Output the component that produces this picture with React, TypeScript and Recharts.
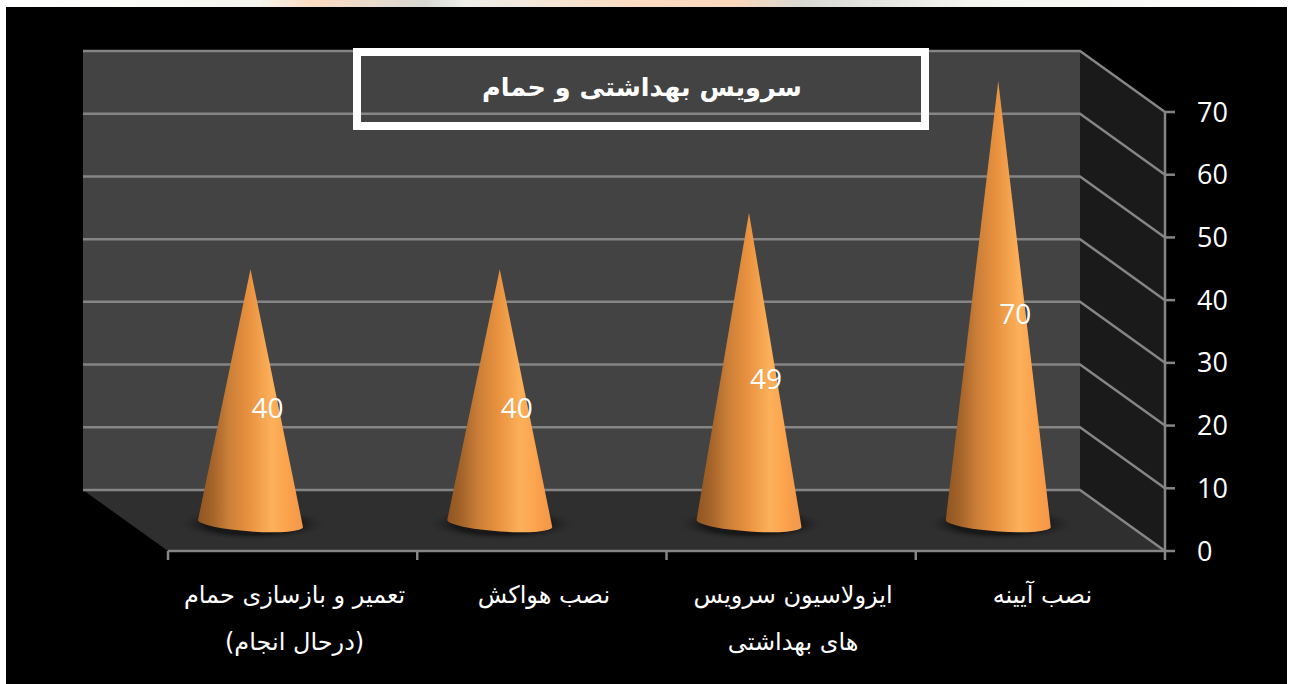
import { Bar, CartesianGrid, ComposedChart, LabelList, XAxis, YAxis } from 'recharts'

const categories = ['تعمیر و بازسازی حمام (درحال انجام)', 'نصب هواکش', 'ایزولاسیون سرویس های بهداشتی', 'نصب آیینه']
const categoryLines = [['تعمیر و بازسازی حمام', '(درحال انجام)'], ['نصب هواکش'], ['ایزولاسیون سرویس', 'های بهداشتی'], ['نصب آیینه']]
const values = [40, 40, 49, 70]
const yTicks = [0, 10, 20, 30, 40, 50, 60, 70]
const chartTitle = 'سرویس بهداشتی و حمام'

const data = categories.map((name, i) => ({ name, value: values[i] }))

const depthX = 85
const depthY = 61
const axisColor = '#858585'
const arabicFont = '"DejaVu Sans", sans-serif'
const numberFont = '"Open Sans", sans-serif'

function Cone(props: any) {
  const { x, y, width, height } = props
  // the cones stand in the middle of the floor, half the depth behind the front edge
  const cx = x + width / 2 - 42
  const top = y - 31
  const base = y + height - 28
  const left = cx - width / 2
  const right = cx + width / 2
  return (
    <g>
      <ellipse cx={cx + 2} cy={base + 1} rx={width / 2 + 24} ry={17} fill="url(#coneShadow)" />
      <path
        d={`M${cx},${top} L${right},${base + 4} A${width / 2},8 4 0 1 ${left},${base - 3} Z`}
        fill="url(#coneFill)"
      />
    </g>
  )
}

function GridLine(props: any) {
  const { x1, x2, y1 } = props
  const backLeft = x1 - depthX
  const backRight = x2 - depthX
  return (
    <path
      d={`M${backLeft},${y1 - depthY} L${backRight},${y1 - depthY} L${x2},${y1}`}
      fill="none"
      stroke={axisColor}
      strokeWidth={2.5}
    />
  )
}

function CategoryTick(props: any) {
  const { x, y, index, payload } = props
  const lines = categoryLines[index] ?? [payload.value]
  const half = 124.6
  return (
    <g>
      <line x1={x - half} x2={x - half} y1={y - 8} y2={y + 1} stroke={axisColor} strokeWidth={2.5} />
      {index === categoryLines.length - 1 && (
        <line x1={x + half} x2={x + half} y1={y - 8} y2={y + 1} stroke={axisColor} strokeWidth={2.5} />
      )}
      {lines.map((line: string, i: number) => (
        <text
          key={line}
          x={x + 2}
          y={y + 44 + i * 47}
          direction="rtl"
          textAnchor="middle"
          fill="#fff"
          fontFamily={arabicFont}
          fontSize={24}
        >
          {line}
        </text>
      ))}
    </g>
  )
}

function ValueLabel(props: any) {
  const { x, y, width, height, value } = props
  return (
    <text
      x={x + width / 2 - 25}
      y={y + height / 2 - 8}
      textAnchor="middle"
      fill="#fff"
      fontFamily={numberFont}
      fontSize={28}
    >
      {value}
    </text>
  )
}

export default function App() {
  return (
    <div
      style={{
        position: 'fixed',
        inset: 0,
        overflow: 'hidden',
        background:
          'linear-gradient(90deg, #fff 0%, #f5f5ef 20%, #fbdcc4 24%, #d8d8d4 33%, #eeeeea 36%, #fbdcc0 50%, #f9d8bc 57%, #d8d8d4 62%, #f4f4f0 75%, #fff 100%)',
      }}
    >
      <div style={{ position: 'absolute', left: 6, top: 7, width: 1281, height: 677, background: '#000' }} />
      <svg width={1293} height={684} style={{ position: 'absolute', left: 0, top: 0 }}>
        <rect x={83} y={50} width={997} height={440} fill="#434343" />
        <polygon points="1080,50 1165,112 1165,551 1080,490" fill="#1a1a1a" />
        <polygon points="83,490 1080,490 1165,551 168,551" fill="#2f2f2f" />
      </svg>
      <div style={{ position: 'absolute', left: 0, top: 0 }}>
        <ComposedChart
          width={1293}
          height={684}
          data={data}
          barCategoryGap={0}
          margin={{ top: 112, right: 68, bottom: 83, left: 168 }}
        >
          <defs>
            <linearGradient id="coneFill" x1="0" y1="0" x2="1" y2="0">
              <stop offset="0%" stopColor="#8f5522" />
              <stop offset="14%" stopColor="#a5642a" />
              <stop offset="30%" stopColor="#cc7f38" />
              <stop offset="48%" stopColor="#e8913f" />
              <stop offset="70%" stopColor="#fdb05a" />
              <stop offset="85%" stopColor="#fba24c" />
              <stop offset="100%" stopColor="#f3964a" />
            </linearGradient>
            <radialGradient id="coneShadow">
              <stop offset="62%" stopColor="#181818" stopOpacity={1} />
              <stop offset="100%" stopColor="#2f2f2f" stopOpacity={0} />
            </radialGradient>
          </defs>
          <CartesianGrid vertical={false} horizontal={GridLine} />
          <XAxis
            dataKey="name"
            height={50}
            interval={0}
            axisLine={{ stroke: axisColor, strokeWidth: 2.5 }}
            tickLine={false}
            tick={CategoryTick}
          />
          <YAxis
            orientation="right"
            width={60}
            domain={[0, 70]}
            ticks={yTicks}
            axisLine={{ stroke: axisColor, strokeWidth: 2.5 }}
            tickLine={{ stroke: axisColor, strokeWidth: 2.5 }}
            tickSize={10}
            tickMargin={22}
            tick={{ fill: '#fff', fontFamily: numberFont, fontSize: 27 }}
          />
          <Bar dataKey="value" barSize={105} shape={Cone} isAnimationActive={false}>
            <LabelList dataKey="value" content={ValueLabel} />
          </Bar>
          <rect x={357} y={52} width={568} height={74} fill="none" stroke="#fff" strokeWidth={8} />
          <text
            x={642}
            y={96}
            direction="rtl"
            textAnchor="middle"
            fill="#fff"
            fontFamily={arabicFont}
            fontSize={25.5}
            fontWeight="bold"
          >
            {chartTitle}
          </text>
        </ComposedChart>
      </div>
    </div>
  )
}
